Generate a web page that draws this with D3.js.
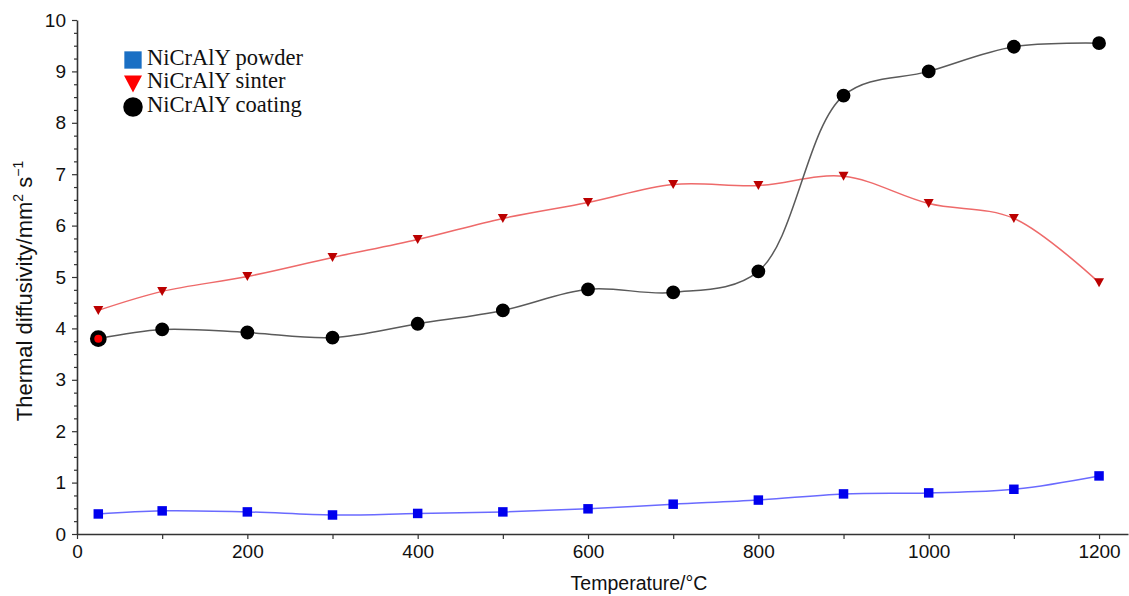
<!DOCTYPE html>
<html>
<head>
<meta charset="utf-8">
<script src="https://cdn.jsdelivr.net/npm/d3@7"></script>
<style>
  body { margin: 0; background: #fff; }
  svg { display: block; }
</style>
</head>
<body>
<svg id="chart"></svg>
<script>
// temperatures (deg C)
var temps = [25, 100, 200, 300, 400, 500, 600, 700, 800, 900, 1000, 1100, 1200];

// thermal diffusivity, mm2/s
var powder = [0.39, 0.45, 0.43, 0.37, 0.40, 0.43, 0.49, 0.58, 0.66, 0.78, 0.80, 0.87, 1.13];
var sinter = [4.35, 4.72, 5.01, 5.38, 5.73, 6.14, 6.45, 6.80, 6.78, 6.96, 6.43, 6.14, 4.89];
var coating = [3.80, 3.98, 3.92, 3.82, 4.09, 4.35, 4.76, 4.70, 5.11, 8.53, 9.00, 9.48, 9.55];

// the red dot sitting inside the first coating marker
var highlightT = [25];
var highlightV = [3.80];

var xTicks = [0, 200, 400, 600, 800, 1000, 1200];
var xMinorTicks = [100, 300, 500, 700, 900, 1100];
var yTicks = [0, 1, 2, 3, 4, 5, 6, 7, 8, 9, 10];

var legendNames = ["NiCrAlY powder", "NiCrAlY sinter", "NiCrAlY coating"];

var svgWidth = 1129, svgHeight = 596;

var margin = { top: 20, right: 1, bottom: 62, left: 77 };
var width = svgWidth - margin.left - margin.right;
var height = svgHeight - margin.top - margin.bottom;

var svg = d3.select("#chart")
    .attr("width", svgWidth)
    .attr("height", svgHeight);

var g = svg.append("g")
    .attr("transform", "translate(" + margin.left + "," + margin.top + ")");

/*
    SCALES
*/
var xScale = d3.scaleLinear()
    .domain([0, 1234])
    .range([0, width]);

var yScale = d3.scaleLinear()
    .domain([0, 10])
    .range([height, 0]);

var axisColor = "#333";
var sans = "'Liberation Sans', Arial, sans-serif";
var serif = "'Liberation Serif', 'Times New Roman', serif";

/*
    AXES
*/
// y minor ticks every 0.25
var yMinor = d3.range(0, 10.01, 0.25).filter(function(v) { return Math.abs(v - Math.round(v)) > 0.01; });

g.append("g")
    .call(d3.axisLeft(yScale).tickValues(yTicks).tickSize(5).tickPadding(6).tickSizeOuter(0));

g.append("g")
    .call(d3.axisLeft(yScale).tickValues(yMinor).tickSize(3).tickFormat(""))
    .call(function(s) { s.select(".domain").remove(); });

g.append("g")
    .attr("transform", "translate(0," + height + ")")
    .call(d3.axisBottom(xScale).tickValues(xTicks).tickFormat(d3.format("d"))
        .tickSize(5).tickPadding(6).tickSizeOuter(0));

g.append("g")
    .attr("transform", "translate(0," + height + ")")
    .call(d3.axisBottom(xScale).tickValues(xMinorTicks).tickSize(5).tickFormat(""))
    .call(function(s) { s.select(".domain").remove(); });

g.selectAll(".domain").attr("stroke", axisColor).attr("stroke-width", 1.6);
g.selectAll(".tick line").attr("stroke", axisColor).attr("stroke-width", 1.2);
g.selectAll(".tick text")
    .attr("fill", "#111")
    .style("font-family", sans)
    .style("font-size", "19px");

/*
    LINES
*/
var line = d3.line()
    .x(function(d) { return xScale(d.t); })
    .y(function(d) { return yScale(d.v); })
    .curve(d3.curveCatmullRom.alpha(0.5));

function pairs(vals) {
    return temps.map(function(t, i) { return { t: t, v: vals[i] }; });
}

var series = [
    { data: pairs(powder), lineColor: "#6a6aff", markColor: "#0000ee", shape: d3.symbolSquare, size: 90 },
    { data: pairs(sinter), lineColor: "#ee6a6a", markColor: "#bb0000", shape: "tri", size: 0 },
    { data: pairs(coating), lineColor: "#5a5a5a", markColor: "#000000", shape: d3.symbolCircle, size: 150 }
];

series.forEach(function(s) {
    g.append("path")
        .datum(s.data)
        .attr("fill", "none")
        .attr("stroke", s.lineColor)
        .attr("stroke-width", 1.5)
        .attr("d", line);
});

// downward triangle, centred
function triPath(w, h) {
    return "M" + (-w / 2) + "," + (-h / 2) + "L" + (w / 2) + "," + (-h / 2) + "L0," + (h / 2) + "Z";
}

series.forEach(function(s, k) {
    var sel = g.append("g").selectAll("path")
        .data(s.data)
        .enter().append("path")
        .attr("transform", function(d) { return "translate(" + xScale(d.t) + "," + yScale(d.v) + ")"; })
        .attr("fill", s.markColor);
    if (s.shape === "tri") {
        sel.attr("d", triPath(10, 9));
    } else {
        sel.attr("d", function(d, i) {
            // first coating point is drawn bigger
            if (k === 2 && i === 0) return d3.symbol().type(d3.symbolCircle).size(220)();
            return d3.symbol().type(s.shape).size(s.size)();
        });
    }
});

g.append("g").selectAll("circle")
    .data(highlightT)
    .enter().append("circle")
    .attr("cx", function(d) { return xScale(d); })
    .attr("cy", function(d, i) { return yScale(highlightV[i]); })
    .attr("r", 4)
    .attr("fill", "#ff0000");

/*
    LEGEND
*/
var legendColors = ["#1a6fc4", "#ff0000", "#000000"];
var legendY = [60, 84, 107];
var legend = svg.append("g").attr("transform", "translate(133, 0)");

legendNames.forEach(function(name, i) {
    var row = legend.append("g").attr("transform", "translate(0," + legendY[i] + ")");
    var mk;
    if (i === 0) mk = d3.symbol().type(d3.symbolSquare).size(300)();
    else if (i === 1) mk = triPath(18, 17);
    else mk = d3.symbol().type(d3.symbolCircle).size(300)();
    row.append("path")
        .attr("d", mk)
        .attr("fill", legendColors[i]);
    row.append("text")
        .attr("x", 14)
        .attr("y", i === 1 ? 4 : 5)
        .style("font-family", serif)
        .style("font-size", "22.5px")
        .attr("fill", "#111")
        .text(name);
});

/*
    AXIS LABELS
*/
var ylab = svg.append("text")
    .attr("transform", "translate(32,291) rotate(-90)")
    .style("text-anchor", "middle")
    .style("font-family", sans)
    .style("font-size", "22px")
    .attr("fill", "#111");
ylab.append("tspan").text("Thermal diffusivity/mm");
ylab.append("tspan").attr("dy", -9).style("font-size", "14px").text("2");
ylab.append("tspan").attr("dy", 9).text(" s");
ylab.append("tspan").attr("dy", -9).style("font-size", "14px").text("\u22121");

svg.append("text")
    .attr("x", 639)
    .attr("y", 590)
    .style("text-anchor", "middle")
    .style("font-family", sans)
    .style("font-size", "19.5px")
    .attr("fill", "#111")
    .text("Temperature/\u00b0C");
</script>
</body>
</html>
